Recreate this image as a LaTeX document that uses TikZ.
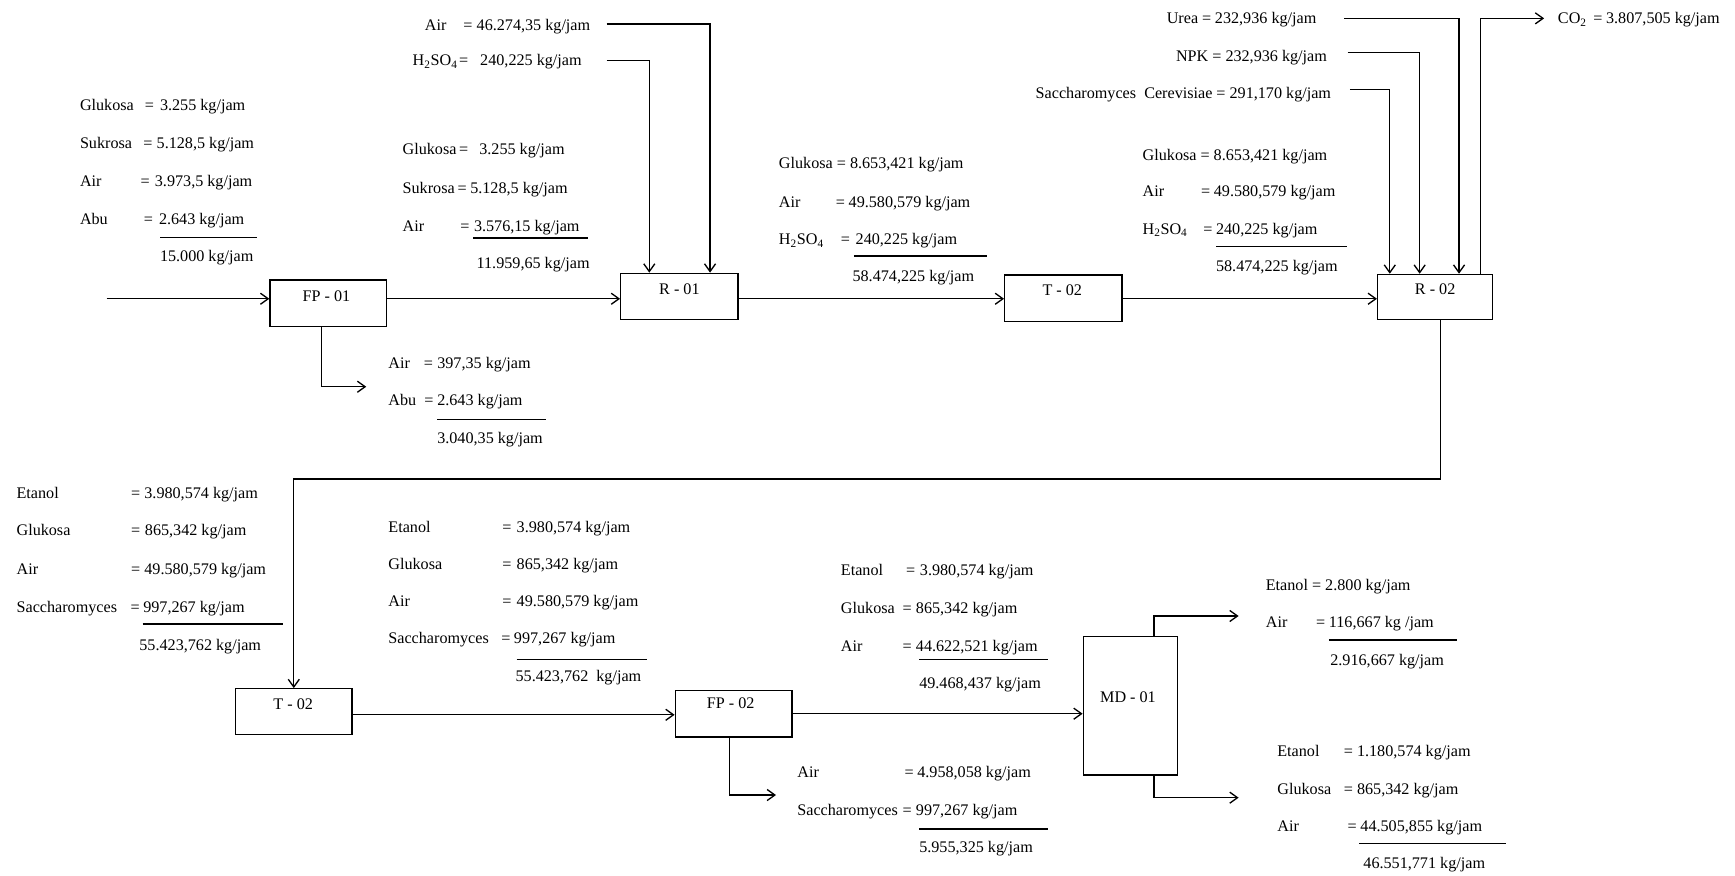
\documentclass[tikz,border=0pt]{standalone}
\usepackage{fontspec}
\setmainfont{Liberation Serif}
\usetikzlibrary{arrows.meta}
\tikzset{
  txt/.style={anchor=base west, inner sep=0pt, outer sep=0pt, font=\fontsize{14.6}{17}\selectfont},
  box/.style={draw, line width=1.2pt, inner sep=0pt, rectangle},
  ln/.style={line width=1.2pt},
  arr/.style={ln, -{Straight Barb[length=7pt,width=10pt]}},
}
\newcommand\trow[7]{%
  \node[txt] (#1l) at (#3,#2+4.8) {#4};
  \node[txt] (#1e) at (#5,#2+4.8) {=};
  \node[txt] (#1v) at (#6,#2+4.8) {#7};}
\newcommand\ttot[7]{%
  \draw[ln] (#3,#2) -- (#4,#2);
  \node[txt] (#1) at (#6,#5+4.8) {#7};}
\newcommand\tone[4]{\node[txt] (#1) at (#2,#3+4.8) {#4};}
\newcommand\HSO{H\textsubscript{2}SO\textsubscript{4}}
\begin{document}
\begin{tikzpicture}[x=1pt,y=-1pt]
\useasboundingbox (0,0) rectangle (1568,791);

% ---------- boxes ----------
\node[box, minimum width=105pt, minimum height=42pt] (fp01) at (296.5,274) {};
\node[box, minimum width=106pt, minimum height=42pt] (r01) at (614,268) {};
\node[box, minimum width=106pt, minimum height=42pt] (t02a) at (961,269.5) {};
\node[box, minimum width=104pt, minimum height=41pt] (r02) at (1297,268.5) {};
\node[box, minimum width=105pt, minimum height=41pt] (t02b) at (265.5,643) {};
\node[box, minimum width=105.5pt, minimum height=42pt] (fp02) at (663,645) {};
\node[box, minimum width=85pt, minimum height=125pt] (md01) at (1021.5,638) {};

\node[txt, anchor=base] (fp01t) at (295,267.5+4.8) {FP - 01};
\node[txt, anchor=base] (r01t) at (614,261.5+4.8) {R - 01};
\node[txt, anchor=base] (t02at) at (960,262.7+4.8) {T - 02};
\node[txt, anchor=base] (r02t) at (1297,261.5+4.8) {R - 02};
\node[txt, anchor=base] (t02bt) at (265,636.5+4.8) {T - 02};
\node[txt, anchor=base] (fp02t) at (660.3,635.6+4.8) {FP - 02};
\node[txt, anchor=base] (md01t) at (1019.4,630.2+4.8) {MD - 01};

% ---------- connectors ----------
\coordinate (row1) at (0,270);
\coordinate (feed) at (96.4,270);
\draw[arr] (feed) -- (fp01.west |- feed);
\draw[arr] (fp01.east |- row1) -- (r01.west |- row1);
\draw[arr] (r01.east |- row1) -- (t02a.west |- row1);
\draw[arr] (t02a.east |- row1) -- (r02.west |- row1);

\coordinate (srcAir) at (548.3,21.7);
\coordinate (srcH) at (548.3,54.8);
\draw[arr] (srcAir) -| ([xshift=27.7pt]r01.north);
\draw[arr] (srcH) -| ([xshift=-27.2pt]r01.north);

\coordinate (fp1o) at (331,349.5);
\draw[arr] ([xshift=-5.8pt]fp01.south) |- (fp1o);

\coordinate (srcU) at (1215,16.6);
\coordinate (srcN) at (1218,47.3);
\coordinate (srcS) at (1220,80.7);
\coordinate (co2) at (1395.5,16.6);
\draw[arr] (srcU) -| ([xshift=21.6pt]r02.north);
\draw[arr] (srcN) -| ([xshift=-14pt]r02.north);
\draw[arr] (srcS) -| ([xshift=-41pt]r02.north);
\draw[arr] ([xshift=41pt]r02.north) |- (co2);

\coordinate (bend) at (1302,433);
\draw[arr] (r02.south -| bend) -- (bend) -| (t02b.north);

\coordinate (row2) at (0,646);
\draw[arr] (t02b.east |- row2) -- (fp02.west |- row2);
\coordinate (row3) at (0,645);
\draw[arr] (fp02.east |- row3) -- (md01.west |- row3);

\coordinate (fp2o) at (701.3,718.5);
\draw[arr] ([xshift=-4pt]fp02.south) |- (fp2o);

\coordinate (mdtop) at (1119.4,556.7);
\coordinate (mdbot) at (1119.4,720.9);
\draw[arr] ([xshift=21.3pt]md01.north) |- (mdtop);
\draw[arr] ([xshift=21.3pt]md01.south) |- (mdbot);

% ---------- text blocks ----------
% feed to FP-01
\trow{a1}{94.9}{72.3}{Glukosa}{131}{144.6}{3.255 kg/jam}
\trow{a2}{129}{72.3}{Sukrosa}{129.5}{141.6}{5.128,5 kg/jam}
\trow{a3}{164.2}{72.3}{Air}{127}{140}{3.973,5 kg/jam}
\trow{a4}{198.2}{72.3}{Abu}{130}{143.7}{2.643 kg/jam}
\ttot{atot}{214.8}{144.6}{232.3}{231.4}{144.6}{15.000 kg/jam}

% FP-01 -> R-01
\trow{b1}{135}{363.9}{Glukosa}{415}{433.2}{3.255 kg/jam}
\trow{b2}{170.2}{363.9}{Sukrosa}{413.5}{425}{5.128,5 kg/jam}
\trow{b3}{204.8}{363.9}{Air}{416}{428.4}{3.576,15 kg/jam}
\ttot{btot}{215}{427.8}{531.7}{238}{430.8}{11.959,65 kg/jam}

% R-01 top inputs
\trow{c1}{22.6}{384}{Air}{418.7}{430.8}{46.274,35 kg/jam}
\trow{c2}{54.8}{373}{\HSO}{415}{434}{240,225 kg/jam}

% FP-01 bottom outlet
\trow{d1}{328}{351}{Air}{383}{395.2}{397,35 kg/jam}
\trow{d2}{362}{351}{Abu}{383.5}{395.2}{2.643 kg/jam}
\ttot{dtot}{379}{395}{493}{396}{395.2}{3.040,35 kg/jam}

% R-01 -> T-02
\tone{e1}{704}{147.6}{Glukosa = 8.653,421 kg/jam}
\trow{e2}{182.3}{704}{Air}{755.5}{767}{49.580,579 kg/jam}
\trow{e3}{216.3}{704}{\HSO}{760}{773.3}{240,225 kg/jam}
\ttot{etot}{231.4}{771.6}{891.6}{250}{770.5}{58.474,225 kg/jam}

% T-02 -> R-02
\tone{f1}{1032.7}{140}{Glukosa = 8.653,421 kg/jam}
\trow{f2}{173}{1032.7}{Air}{1085.5}{1097}{49.580,579 kg/jam}
\trow{f3}{207}{1032.7}{\HSO}{1087.5}{1099}{240,225 kg/jam}
\ttot{ftot}{223}{1099}{1217.7}{241}{1099}{58.474,225 kg/jam}

% R-02 top inputs and CO2
\trow{g1}{16.6}{1054.5}{Urea}{1086.5}{1098}{232,936 kg/jam}
\tone{g2}{1062.8}{51}{NPK = 232,936 kg/jam}
\tone{g3}{936}{83.8}{Saccharomyces\ \ Cerevisiae = 291,170 kg/jam}
\trow{g4}{16.6}{1408}{CO\textsubscript{2}}{1440}{1451.5}{3.807,505 kg/jam}

% R-02 -> T-02 (lower)
\trow{h1}{445.8}{15}{Etanol}{118.5}{130.5}{3.980,574 kg/jam}
\trow{h2}{479}{15}{Glukosa}{118.5}{131}{865,342 kg/jam}
\trow{h3}{514.5}{15}{Air}{118.5}{130.5}{49.580,579 kg/jam}
\trow{h4}{548.3}{15}{Saccharomyces}{118}{129.5}{997,267 kg/jam}
\ttot{htot}{564}{129}{256}{583}{126}{55.423,762 kg/jam}

% T-02 -> FP-02
\trow{i1}{476}{351}{Etanol}{454}{467}{3.980,574 kg/jam}
\trow{i2}{510}{351}{Glukosa}{454}{467}{865,342 kg/jam}
\trow{i3}{543.7}{351}{Air}{454}{467}{49.580,579 kg/jam}
\trow{i4}{576.9}{351}{Saccharomyces}{453}{464.5}{997,267 kg/jam}
\ttot{itot}{595.9}{467}{584.4}{611.5}{466}{55.423,762\ \ kg/jam}

% FP-02 -> MD-01
\trow{j1}{515.7}{760}{Etanol}{819}{831.4}{3.980,574 kg/jam}
\trow{j2}{549.8}{760}{Glukosa}{815.8}{827.8}{865,342 kg/jam}
\trow{j3}{583.8}{760}{Air}{815.8}{827.8}{44.622,521 kg/jam}
\ttot{jtot}{595.9}{830.8}{947.4}{617.6}{830.8}{49.468,437 kg/jam}

% FP-02 bottom outlet
\trow{k1}{698}{720.6}{Air}{817.5}{829}{4.958,058 kg/jam}
\trow{k2}{732}{720.6}{Saccharomyces}{815.8}{827.8}{997,267 kg/jam}
\ttot{ktot}{749.2}{830.8}{947.4}{765.8}{830.8}{5.955,325 kg/jam}

% MD-01 top product
\tone{l1}{1144}{528.7}{Etanol = 2.800 kg/jam}
\trow{l2}{562.7}{1144}{Air}{1189.5}{1201}{116,667 kg /jam}
\ttot{ltot}{578.4}{1201}{1316.7}{596.5}{1202.3}{2.916,667 kg/jam}

% MD-01 bottom product
\trow{m1}{679.3}{1154.4}{Etanol}{1214.5}{1226.4}{1.180,574 kg/jam}
\trow{m2}{713.3}{1154.4}{Glukosa}{1214.5}{1226.4}{865,342 kg/jam}
\trow{m3}{746.5}{1154.4}{Air}{1217.9}{1229.5}{44.505,855 kg/jam}
\ttot{mtot}{762.2}{1228.4}{1360.6}{780.2}{1232.2}{46.551,771 kg/jam}

\end{tikzpicture}
\end{document}
